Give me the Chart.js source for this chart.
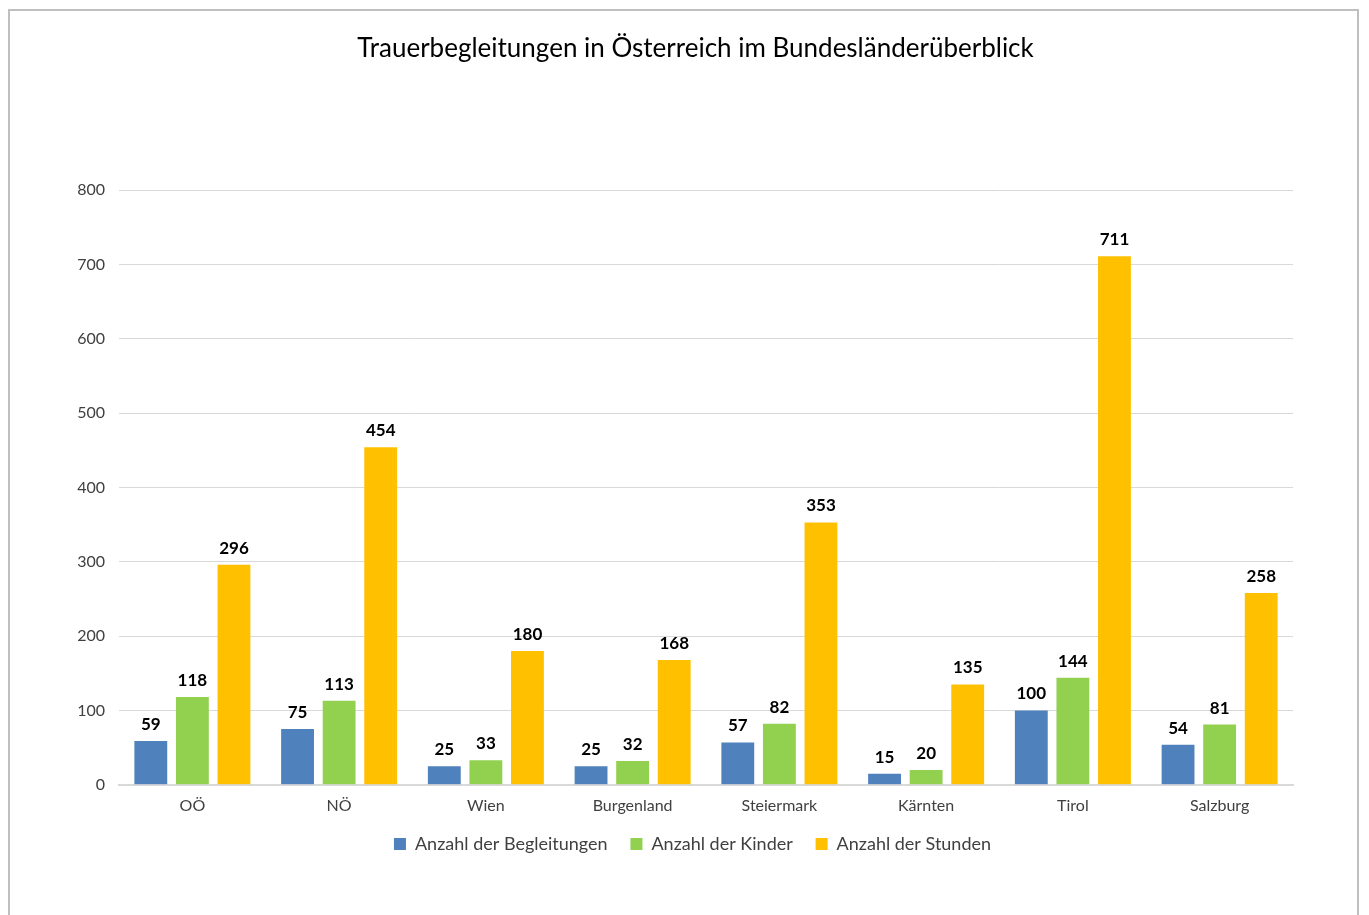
<!DOCTYPE html>
<html><head><meta charset="utf-8">
<script src="https://cdn.jsdelivr.net/npm/chart.js@4/dist/chart.umd.min.js"></script>
<style>
html,body{margin:0;padding:0;background:#fff;width:1369px;height:915px;overflow:hidden;}
#frame{position:absolute;left:8px;top:9px;width:1351px;height:920px;border:2px solid #BFBFBF;border-bottom:none;box-sizing:border-box;}
#wrap{position:absolute;left:0;top:0;width:1369px;height:915px;}
</style></head>
<body>
<div id="frame"></div>
<div id="wrap"><canvas id="c" width="1369" height="915"></canvas></div>
<script>
const categories = ["OÖ","NÖ","Wien","Burgenland","Steiermark","Kärnten","Tirol","Salzburg"];
const seriesNames = ["Anzahl der Begleitungen","Anzahl der Kinder","Anzahl der Stunden"];
const begleitungen = [59,75,25,25,57,15,100,54];
const kinder = [118,113,33,32,82,20,144,81];
const stunden = [296,454,180,168,353,135,711,258];
const colors = ["#4F81BD","#92D050","#FFC000"];
const FONT = "Lato, 'DejaVu Sans', sans-serif";

const labelPlugin = {
  id:'barLabels',
  afterLayout(chart){
    // centre title and legend over the whole frame rather than the padded box
    const t = chart.titleBlock;
    if (t) { t.left += 39; t.right += 39; }
    const l = chart.legend;
    if (l) { l.left += 36; l.right += 36; }
  },
  afterDatasetsDraw(chart){
    const ctx = chart.ctx;
    ctx.save();
    ctx.font = "bold 17px " + FONT;
    ctx.fillStyle = "#000";
    ctx.textAlign = "center";
    ctx.textBaseline = "bottom";
    chart.data.datasets.forEach((ds,i)=>{
      chart.getDatasetMeta(i).data.forEach((bar,j)=>{
        ctx.fillText(String(ds.data[j]), bar.x, bar.y - 8);
      });
    });
    ctx.restore();
  }
};

new Chart(document.getElementById('c'),{
  type:'bar',
  data:{
    labels:categories,
    datasets:[
      {label:seriesNames[0],data:begleitungen,backgroundColor:colors[0]},
      {label:seriesNames[1],data:kinder,backgroundColor:colors[1]},
      {label:seriesNames[2],data:stunden,backgroundColor:colors[2]}
    ]
  },
  options:{
    responsive:false,
    animation:false,
    devicePixelRatio:1,
    layout:{padding:{left:20,right:76,top:10,bottom:52}},
    datasets:{bar:{categoryPercentage:0.85,barPercentage:0.79}},
    plugins:{
      title:{display:true,text:"Trauerbegleitungen in Österreich im Bundesländerüberblick",
        color:"#000",font:{family:FONT,size:26,weight:'normal'},padding:{top:23,bottom:126}},
      legend:{position:'bottom',labels:{color:"#404040",font:{family:FONT,size:18},boxWidth:12,boxHeight:12,padding:9,
        generateLabels(chart){
          const items = Chart.defaults.plugins.legend.labels.generateLabels(chart);
          items.forEach((it,i)=>{ if(i<items.length-1) it.text = it.text + "   "; });
          return items;
        }}},
      tooltip:{enabled:false}
    },
    scales:{
      x:{grid:{display:false,drawTicks:false},border:{color:"#D9D9D9",width:2},
        ticks:{color:"#404040",font:{family:FONT,size:16},padding:11}},
      y:{min:0,max:800,ticks:{stepSize:100,color:"#404040",font:{family:FONT,size:16},padding:14},
        grid:{color:"#D9D9D9",drawTicks:false},border:{display:false},
        afterFit(s){s.width=99;}}
    }
  },
  plugins:[labelPlugin]
});
</script>
</body></html>
